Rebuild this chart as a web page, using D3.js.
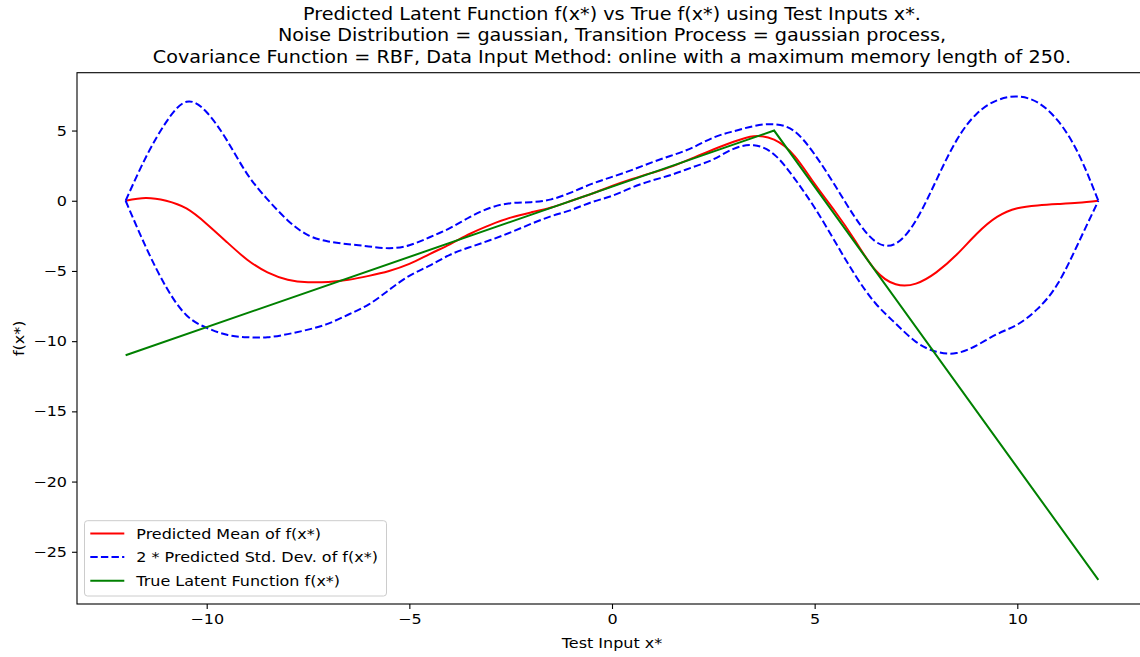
<!DOCTYPE html>
<html>
<head>
<meta charset="utf-8">
<script src="https://cdnjs.cloudflare.com/ajax/libs/d3/7.8.5/d3.min.js"></script>
<style>
  body { margin: 0; background: #fff; }
  text { font-family: "DejaVu Sans", sans-serif; fill: #000; }
</style>
</head>
<body>
<div id="chart"></div>
<script>
// test inputs x* (step 0.5)
const xs = [-12, -11.5, -11, -10.5, -10, -9.5, -9, -8.5, -8, -7.5, -7, -6.5, -6, -5.5, -5, -4.5, -4, -3.5, -3, -2.5, -2, -1.5, -1, -0.5,
  0, 0.5, 1, 1.5, 2, 2.5, 3, 3.5, 4, 4.5, 5, 5.5, 6, 6.5, 7, 7.5, 8, 8.5, 9, 9.5, 10, 10.5, 11, 11.5, 12];

// predicted mean of f(x*)
const meanF = [0, 0.2, 0.0, -0.55, -1.65, -2.95, -4.2, -5.1, -5.62, -5.8, -5.78, -5.63, -5.35, -5.0, -4.5, -3.8, -3.1, -2.35, -1.72, -1.2, -0.83, -0.48, 0.0, 0.5,
  1.05, 1.55, 2.0, 2.47, 3.05, 3.65, 4.2, 4.6, 4.35, 3.2, 1.2, -0.75, -2.85, -4.95, -5.95, -5.9, -5.1, -3.85, -2.35, -1.15, -0.53, -0.33, -0.24, -0.15, 0];

// mean + 2 std
const upperF = [0, 3.1, 5.6, 7.05, 6.3, 4.3, 1.9, 0.1, -1.4, -2.45, -2.9, -3.1, -3.25, -3.38, -3.17, -2.6, -1.95, -1.15, -0.5, -0.17, -0.1, 0.1, 0.6, 1.2,
  1.7, 2.2, 2.75, 3.25, 3.8, 4.5, 4.95, 5.32, 5.45, 4.95, 3.3, 1.1, -1.2, -2.9, -3.05, -1.4, 1.45, 4.3, 6.2, 7.15, 7.42, 7.0, 5.7, 3.4, 0];

// mean - 2 std
const lowerF = [0, -3.3, -6.15, -8.15, -9.05, -9.55, -9.72, -9.72, -9.5, -9.18, -8.75, -8.1, -7.38, -6.35, -5.35, -4.62, -3.85, -3.3, -2.8, -2.25, -1.65, -1.1, -0.65, -0.1,
  0.35, 0.95, 1.45, 1.88, 2.4, 2.95, 3.7, 3.95, 3.3, 1.6, -0.5, -2.9, -5.3, -7.3, -8.75, -10.05, -10.75, -10.85, -10.3, -9.5, -8.82, -7.7, -5.9, -3.05, 0];

// true latent function (piecewise linear)
const trueX = [-12, 4, 12];
const trueF = [-11, 5, -27];

const xTicks = [-10, -5, 0, 5, 10];
const yTicks = [-25, -20, -15, -10, -5, 0, 5];

const titleLines = [
  'Predicted Latent Function f(x*) vs True f(x*) using Test Inputs x*.',
  'Noise Distribution = gaussian, Transition Process = gaussian process,',
  'Covariance Function = RBF, Data Input Method: online with a maximum memory length of 250.'
];
const legendLabels = ['Predicted Mean of f(x*)', '2 * Predicted Std. Dev. of f(x*)', 'True Latent Function f(x*)'];

const width = 1140;
const height = 657;
// plot box (right edge falls just outside the picture, like the original)
const pLeft = 77, pRight = 1147, pTop = 72.7, pBottom = 604;
// the original picture is a bit wider than tall in its lettering
const textStretch = 1.11;

const svg = d3.select('#chart').append('svg')
  .attr('width', width)
  .attr('height', height);

const x = d3.scaleLinear().domain([-13.2, 13.2]).range([pLeft, pRight]);
const y = d3.scaleLinear().domain([-28.72, 9.12]).range([pBottom, pTop]);

svg.append('clipPath').attr('id', 'clip')
  .append('rect')
  .attr('x', pLeft).attr('y', pTop)
  .attr('width', pRight - pLeft).attr('height', pBottom - pTop);

const plot = svg.append('g').attr('clip-path', 'url(#clip)');

const line = d3.line()
  .x(d => x(d[0]))
  .y(d => y(d[1]))
  .curve(d3.curveNatural);

const straight = d3.line()
  .x(d => x(d[0]))
  .y(d => y(d[1]));

const red = '#ff0000', blue = '#0000ff', green = '#008000';
const dash = '7.4,3.2';

//mean
plot.append('path')
  .attr('d', line(xs.map((v, i) => [v, meanF[i]])))
  .attr('fill', 'none').attr('stroke', red).attr('stroke-width', 2);
//std bands
[upperF, lowerF].forEach(arr => {
  plot.append('path')
    .attr('d', line(xs.map((v, i) => [v, arr[i]])))
    .attr('fill', 'none').attr('stroke', blue).attr('stroke-width', 2)
    .attr('stroke-dasharray', dash);
});
//true function
plot.append('path')
  .attr('d', straight(trueX.map((v, i) => [v, trueF[i]])))
  .attr('fill', 'none').attr('stroke', green).attr('stroke-width', 2);

//axes
const fmt = d => (d < 0 ? '\u2212' + Math.abs(d) : '' + d);

const xAxis = svg.append('g')
  .attr('transform', 'translate(0,' + pBottom + ')')
  .call(d3.axisBottom(x).tickValues(xTicks).tickFormat(fmt).tickSize(5).tickPadding(5));
const yAxis = svg.append('g')
  .attr('transform', 'translate(' + pLeft + ',0)')
  .call(d3.axisLeft(y).tickValues(yTicks).tickFormat(fmt).tickSize(5).tickPadding(5));

[xAxis, yAxis].forEach(a => {
  a.select('.domain').remove();
  a.selectAll('line').attr('stroke', '#000').attr('stroke-width', 1.1);
  a.selectAll('text').style('font-size', '14.4px').style('font-family', '"DejaVu Sans", sans-serif');
});

//spines
svg.append('rect')
  .attr('x', pLeft).attr('y', pTop)
  .attr('width', pRight - pLeft).attr('height', pBottom - pTop)
  .attr('fill', 'none').attr('stroke', '#000').attr('stroke-width', 1.1);

//title
svg.append('g').selectAll('text')
  .data(titleLines)
  .join('text')
  .attr('x', (pLeft + pRight) / 2)
  .attr('y', (d, i) => 19.5 + i * 21.5)
  .style('text-anchor', 'middle')
  .style('font-size', '17.3px')
  .text(d => d);

//axis labels
svg.append('text')
  .attr('x', (pLeft + pRight) / 2)
  .attr('y', 648)
  .style('text-anchor', 'middle')
  .style('font-size', '14.4px')
  .text('Test Input x*');

svg.append('text')
  .attr('transform', 'translate(24,' + ((pTop + pBottom) / 2) + ') rotate(-90)')
  .style('text-anchor', 'middle')
  .style('font-size', '14.4px')
  .text('f(x*)');

//legend
const legend = svg.append('g');
legend.append('rect')
  .attr('x', 84.5).attr('y', 520.7)
  .attr('width', 302).attr('height', 75.3)
  .attr('rx', 3)
  .attr('fill', '#fff').attr('fill-opacity', 0.8)
  .attr('stroke', '#cccccc').attr('stroke-width', 1);

const styles = [
  { color: red, dash: null },
  { color: blue, dash: dash },
  { color: green, dash: null }
];
legendLabels.forEach((lab, i) => {
  const yy = 533.5 + i * 23.6;
  legend.append('line')
    .attr('x1', 90.3).attr('x2', 124.3)
    .attr('y1', yy).attr('y2', yy)
    .attr('stroke', styles[i].color).attr('stroke-width', 2)
    .attr('stroke-dasharray', styles[i].dash);
  legend.append('text')
    .attr('x', 136.3)
    .attr('y', yy + 5)
    .style('font-size', '14.4px')
    .text(lab);
});

//widen all lettering a little
svg.selectAll('text').each(function () {
  const w = this.getComputedTextLength();
  d3.select(this)
    .attr('textLength', w * textStretch)
    .attr('lengthAdjust', 'spacingAndGlyphs');
});
</script>
</body>
</html>
